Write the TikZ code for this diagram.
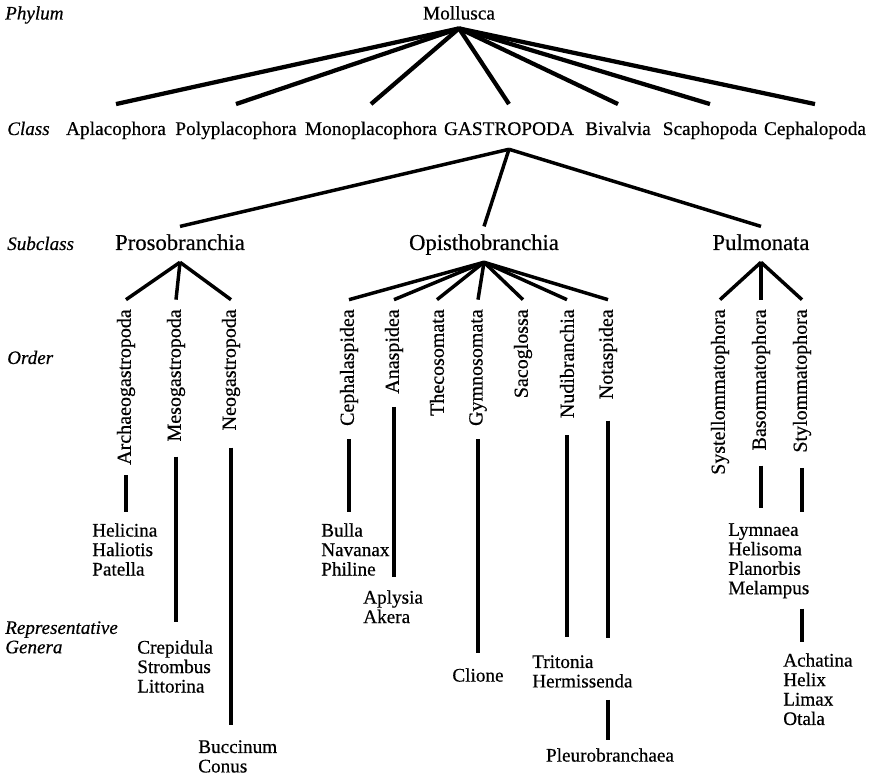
\documentclass[tikz,border=0pt]{standalone}
\usepackage{fontspec}
\setmainfont{Liberation Serif}[FakeBold=0.5]
\usetikzlibrary{calc}

\begin{document}
\begin{tikzpicture}[
  x=0.75pt,
  y=-0.75pt,
  rank/.style={font=\fontsize{14.3}{14.5}\selectfont\itshape, inner sep=0pt, anchor=base west},
  taxon/.style={font=\fontsize{14.5}{15}\selectfont, inner sep=0pt, anchor=base,
    text height=10pt, text depth=3pt},
  subclass/.style={font=\fontsize{17}{18}\selectfont, inner sep=0pt, anchor=base,
    text height=12pt, text depth=4pt},
  ordername/.style={font=\fontsize{15}{16}\selectfont, inner sep=0pt, rotate=90, anchor=east},
  genus/.style={font=\fontsize{14.4}{14.6}\selectfont, inner sep=0pt, align=left, anchor=north west},
  fan/.style={line width=3.2pt},
  branch/.style={line width=2.6pt},
  stem/.style={line width=2.7pt}
]
\useasboundingbox (0,0) rectangle (876,777);

% rank labels on the left
\node[rank] (phylumlbl) at (5,19.5) {Phylum};
\node[rank] (classlbl) at (7,135) {Class};
\node[rank] (subclasslbl) at (7,250) {Subclass};
\node[rank] (orderlbl) at (7,364) {Order};
\node[rank, align=left, anchor=north west] (generalbl) at (5,621) {Representative\\Genera};

% phylum and classes
\node[taxon] (mollusca) at (459,19.5) {Mollusca};
\node[taxon] (aplaco) at (116,135) {Aplacophora};
\node[taxon] (polyplaco) at (236,135) {Polyplacophora};
\node[taxon] (monoplaco) at (371,135) {Monoplacophora};
\node[taxon] (gastro) at (509,135) {GASTROPODA};
\node[taxon] (bivalvia) at (618,135) {Bivalvia};
\node[taxon] (scapho) at (710,135) {Scaphopoda};
\node[taxon] (cephalo) at (815,135) {Cephalopoda};

% subclasses
\node[subclass] (proso) at (180,250) {Prosobranchia};
\node[subclass] (opistho) at (484,250) {Opisthobranchia};
\node[subclass] (pulmo) at (761,250) {Pulmonata};

% orders
\node[ordername] (archaeo) at (126,309) {Archaeogastropoda};
\node[ordername] (meso) at (176,309) {Mesogastropoda};
\node[ordername] (neo) at (231,309) {Neogastropoda};
\node[ordername] (cephal) at (349,309) {Cephalaspidea};
\node[ordername] (anasp) at (394,309) {Anaspidea};
\node[ordername] (theco) at (437,309) {Thecosomata};
\node[ordername] (gymno) at (478,309) {Gymnosomata};
\node[ordername] (saco) at (523,309) {Sacoglossa};
\node[ordername] (nudi) at (567,309) {Nudibranchia};
\node[ordername] (notasp) at (608,309) {Notaspidea};
\node[ordername] (systell) at (720,309) {Systellommatophora};
\node[ordername] (basomm) at (761,309) {Basommatophora};
\node[ordername] (stylomm) at (802,309) {Stylommatophora};

% representative genera
\node[genus] (helicina) at (92,523) {Helicina\\Haliotis\\Patella};
\node[genus] (crepidula) at (137,640) {Crepidula\\Strombus\\Littorina};
\node[genus] (buccinum) at (198,740) {Buccinum\\Conus};
\node[genus] (bulla) at (321,523) {Bulla\\Navanax\\Philine};
\node[genus] (aplysia) at (363,590) {Aplysia\\Akera};
\node[genus, anchor=north] (clione) at (478,668) {Clione};
\node[genus] (tritonia) at (532,655) {Tritonia\\Hermissenda};
\node[genus, anchor=north] (pleuro) at (610,748) {Pleurobranchaea};
\node[genus] (lymnaea) at (728,523) {Lymnaea\\Helisoma\\Planorbis\\Melampus};
\node[genus] (achatina) at (783,653) {Achatina\\Helix\\Limax\\Otala};

% tree lines
\foreach \cls in {aplaco,polyplaco,monoplaco,gastro,bivalvia,scapho,cephalo}
  \draw[fan] ([yshift=-3.5pt]mollusca.south) -- ([yshift=13pt]\cls.north);
\foreach \sub in {proso,opistho,pulmo}
  \draw[branch] ([yshift=-7.5pt]gastro.south) -- ([yshift=5.5pt]\sub.north);
\foreach \ord in {archaeo,meso,neo}
  \draw[branch] ([yshift=-5pt]proso.south) -- ([yshift=7pt]\ord.east);
\foreach \ord in {cephal,anasp,theco,gymno,saco,nudi,notasp}
  \draw[branch] ([yshift=-5pt]opistho.south) -- ([yshift=7pt]\ord.east);
\foreach \ord in {systell,basomm,stylomm}
  \draw[branch] ([yshift=-5pt]pulmo.south) -- ([yshift=7pt]\ord.east);

% stems down to the genera
\foreach \ord/\gen/\ga/\gb in {archaeo/helicina/10/11, meso/crepidula/15/18, neo/buccinum/17/15,
    cephal/bulla/13/11, anasp/aplysia/13/13, gymno/clione/13/15, nudi/tritonia/17/18,
    basomm/lymnaea/15/15}
  \draw[stem] ($(\ord.west)+(0,\ga)$) -- ($(\ord.west |- \gen.north)+(0,-\gb)$);
\draw[stem] ($(notasp.west)+(0,21)$) -- ($(notasp.west |- tritonia.north)+(0,-17)$);
\draw[stem] ($(notasp.west |- tritonia.south)+(0,12)$) -- ($(notasp.west |- pleuro.north)+(0,-8)$);
\draw[stem] ($(stylomm.west)+(0,15)$) -- ($(stylomm.west |- lymnaea.north)+(0,-11)$);
\draw[stem] ($(stylomm.west |- lymnaea.south)+(0,10)$) -- ($(stylomm.west |- achatina.north)+(0,-11)$);
\end{tikzpicture}
\end{document}
